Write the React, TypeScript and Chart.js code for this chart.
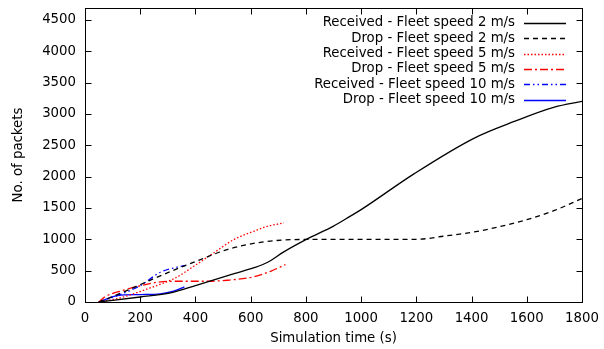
import React, { useEffect, useRef } from "react";
import { Chart, registerables } from "chart.js";

Chart.register(...registerables);

const xTicks = [0, 200, 400, 600, 800, 1000, 1200, 1400, 1600, 1800];
const yTicks = [0, 500, 1000, 1500, 2000, 2500, 3000, 3500, 4000, 4500];

const labels = [
  "Received - Fleet speed 2 m/s",
  "Drop - Fleet speed 2 m/s",
  "Received - Fleet speed 5 m/s",
  "Drop - Fleet speed 5 m/s",
  "Received - Fleet speed 10 m/s",
  "Drop - Fleet speed 10 m/s",
];

const recv2X = [50, 200, 310, 400, 540, 610, 660, 720, 800, 900, 960, 1000, 1190, 1410, 1555, 1700, 1800];
const recv2Y = [0, 80, 146, 263, 453, 544, 630, 800, 995, 1210, 1366, 1473, 2040, 2615, 2880, 3108, 3200];

const drop2X = [50, 104, 201, 298, 418, 515, 635, 756, 900, 1050, 1200, 1300, 1410, 1500, 1600, 1700, 1800];
const drop2Y = [0, 93, 279, 465, 677, 836, 952, 995, 1000, 1000, 1000, 1050, 1118, 1200, 1314, 1460, 1650];

const recv5X = [50, 129, 237, 328, 394, 466, 539, 611, 660, 720];
const recv5Y = [0, 67, 226, 385, 570, 783, 995, 1128, 1207, 1261];

const drop5X = [50, 74, 130, 201, 273, 350, 430, 515, 611, 672, 726];
const drop5Y = [0, 88, 175, 260, 321, 331, 331, 347, 401, 490, 597];

const recv10X = [50, 104, 201, 273, 364];
const recv10Y = [0, 80, 263, 475, 586];

const drop10X = [50, 117, 201, 273, 321, 360];
const drop10Y = [0, 103, 119, 130, 172, 242];

const colors = ["#000000", "#000000", "#ff0000", "#ff0000", "#0000ff", "#0000ff"];
const dashes: number[][] = [[], [5, 4], [1.5, 2], [8, 3, 2, 3], [6, 3, 1.5, 3, 1.5, 3], []];

const FONT = "DejaVu Sans";
const FS = 13.3;

function pts(xs: number[], ys: number[]) {
  return xs.map((x, i) => ({ x, y: ys[i] }));
}

export default function App() {
  const ref = useRef<HTMLCanvasElement>(null);
  useEffect(() => {
    document.body.style.margin = "0";
    const series = [
      pts(recv2X, recv2Y),
      pts(drop2X, drop2Y),
      pts(recv5X, recv5Y),
      pts(drop5X, drop5Y),
      pts(recv10X, recv10Y),
      pts(drop10X, drop10Y),
    ];
    const framePlugin = {
      id: "frame",
      afterDraw(chart: any) {
        const ctx = chart.ctx;
        const a = chart.chartArea;
        const xs = chart.scales.x;
        const ys = chart.scales.y;
        ctx.save();
        ctx.strokeStyle = "#000";
        ctx.lineWidth = 1;
        ctx.setLineDash([]);
        const L = Math.round(a.left) + 0.5, R = Math.round(a.right) + 0.5;
        const T = Math.round(a.top) + 0.5, B = Math.round(a.bottom) + 0.5;
        ctx.strokeRect(L, T, R - L, B - T);
        const tl = 6;
        ctx.beginPath();
        xTicks.forEach((v) => {
          const px = Math.round(xs.getPixelForValue(v)) + 0.5;
          ctx.moveTo(px, B); ctx.lineTo(px, B - tl);
          ctx.moveTo(px, T); ctx.lineTo(px, T + tl);
        });
        yTicks.forEach((v) => {
          const py = Math.round(ys.getPixelForValue(v)) + 0.5;
          ctx.moveTo(L, py); ctx.lineTo(L + tl, py);
          ctx.moveTo(R, py); ctx.lineTo(R - tl, py);
        });
        ctx.stroke();
        // legend
        ctx.font = `${FS}px "${FONT}"`;
        ctx.textAlign = "right";
        ctx.textBaseline = "middle";
        chart.data.datasets.forEach((ds: any, i: number) => {
          const y = 22.7 + i * 15.4;
          ctx.fillStyle = "#000";
          ctx.fillText(ds.label, 515, y);
          ctx.strokeStyle = ds.borderColor;
          ctx.lineWidth = ds.borderWidth;
          ctx.setLineDash(ds.borderDash || []);
          ctx.beginPath();
          ctx.moveTo(524, Math.round(y) + 0.5);
          ctx.lineTo(566, Math.round(y) + 0.5);
          ctx.stroke();
        });
        ctx.restore();
      },
    };
    const chart = new Chart(ref.current!, {
      type: "line",
      data: {
        datasets: series.map((d, i) => ({
          label: labels[i],
          data: d,
          borderColor: colors[i],
          backgroundColor: colors[i],
          borderWidth: 1.3,
          borderDash: dashes[i],
          pointRadius: 0,
          fill: false,
          cubicInterpolationMode: "monotone" as const,
        })),
      },
      options: {
        responsive: false,
        animation: false,
        events: [],
        layout: { padding: { left: 0, right: 22, top: 8, bottom: 0 } },
        plugins: { legend: { display: false }, tooltip: { enabled: false } },
        scales: {
          x: {
            type: "linear",
            min: 0,
            max: 1800,
            grid: { display: false, drawTicks: false },
            border: { display: false },
            afterBuildTicks: (s: any) => { s.ticks = xTicks.map((v) => ({ value: v })); },
            afterFit: (s: any) => { s.height = 47; s.paddingLeft = 0; s.paddingRight = 0; s.paddingTop = 0; s.paddingBottom = 0; },
            ticks: { color: "#000", font: { family: FONT, size: FS }, padding: 9, maxRotation: 0, callback: (v: any) => String(v) },
            title: { display: true, text: "Simulation time (s)", color: "#000", font: { family: FONT, size: FS }, padding: { top: 0, bottom: 2 } },
          },
          y: {
            type: "linear",
            min: 0,
            max: 4690,
            grid: { display: false, drawTicks: false },
            border: { display: false },
            afterBuildTicks: (s: any) => { s.ticks = yTicks.map((v) => ({ value: v })); },
            afterFit: (s: any) => { s.width = 85; s.paddingLeft = 0; s.paddingRight = 0; s.paddingTop = 0; s.paddingBottom = 0; },
            ticks: { color: "#000", font: { family: FONT, size: FS }, padding: 9, callback: (v: any) => String(v) },
            title: { display: true, text: "No. of packets", color: "#000", font: { family: FONT, size: FS }, padding: { top: 11, bottom: 0 } },
          },
        },
      },
      plugins: [framePlugin],
    });
    return () => chart.destroy();
  }, []);
  return (
    <div style={{ width: 604, height: 349 }}>
      <canvas ref={ref} width={604} height={349} style={{ display: "block" }} />
    </div>
  );
}
